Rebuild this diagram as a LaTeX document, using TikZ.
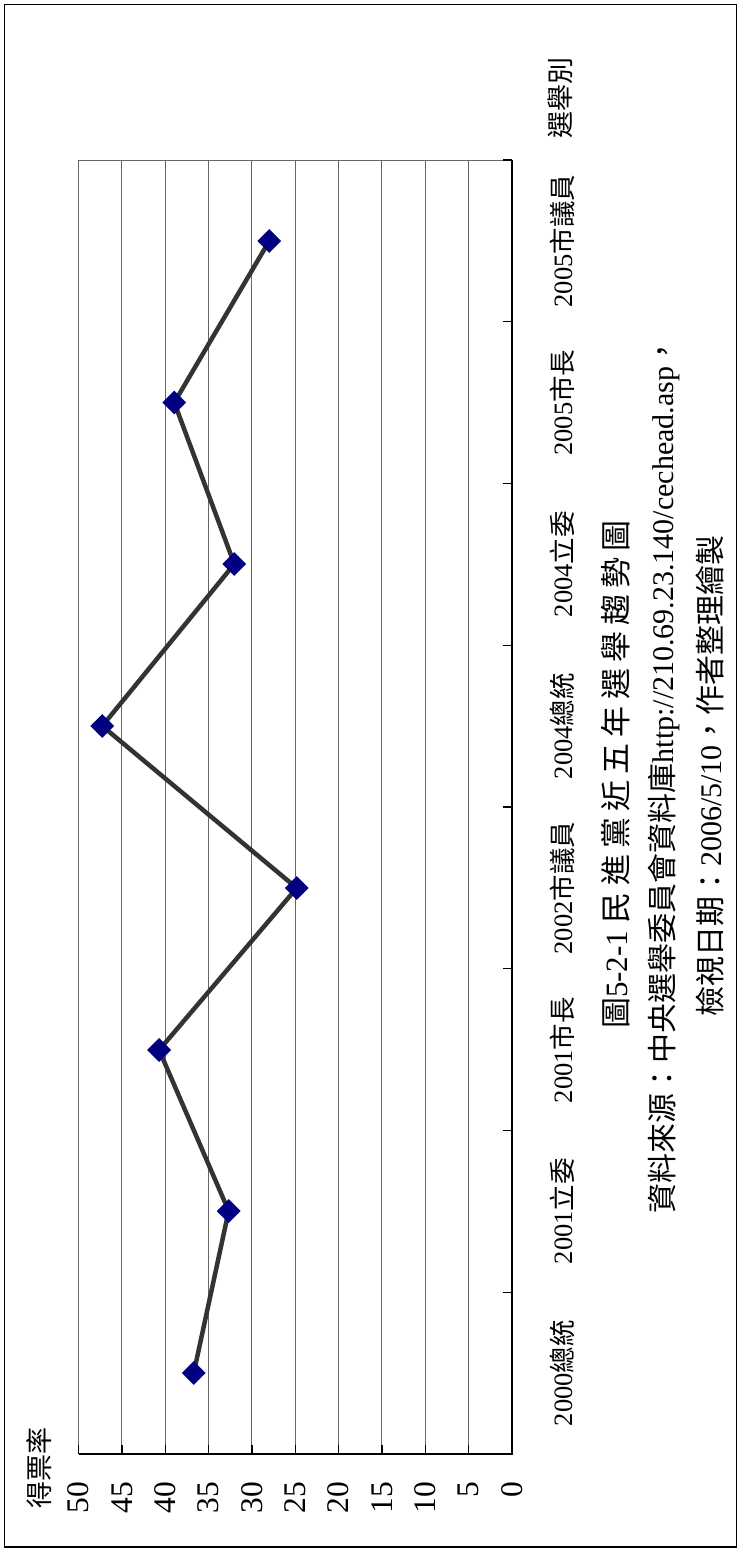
\documentclass[tikz,border=0pt]{standalone}
\usepackage{fontspec}
\setmainfont{Liberation Serif}
\newfontfamily\cjk{Noto Sans CJK TC}
\newfontfamily\cjkwide{Noto Sans CJK TC}[LetterSpace=20]
\usetikzlibrary{shapes.geometric}
\definecolor{navy}{RGB}{0,0,128}
\definecolor{darkline}{RGB}{51,51,51}

\tikzstyle{gridline} = [draw=black!60, line width=1pt]
\tikzstyle{axisline} = [draw=black, line width=1.3pt]
\tikzstyle{marker} = [diamond, fill=navy, minimum width=24pt, minimum height=24pt, inner sep=0pt]
\tikzstyle{dataline} = [draw=darkline, line width=4.5pt, line join=round]
\tikzstyle{catlabel} = [rotate=90, inner sep=0pt, font=\fontsize{26.5}{26.5}\selectfont]
\tikzstyle{vallabel} = [rotate=90, anchor=east, inner sep=0pt, font=\fontsize{31.5}{31.5}\selectfont]
\tikzstyle{axistitle} = [rotate=90, inner sep=0pt, font=\fontsize{27}{27}\selectfont\cjk]

\begin{document}
\begin{tikzpicture}[x=1pt, y=-1pt]
  \useasboundingbox (0,0) rectangle (739,1550);
  \draw [line width=1.3pt] (4.5,4.5) rectangle (736.5,1547);
  % grid
  \foreach \v in {5,10,...,50}
    \draw [gridline] ({512-8.67*\v},160) -- ({512-8.67*\v},1454);
  \draw [gridline] (78.5,160) -- (512,160);
  % axes
  \draw [axisline] (512,160) -- (512,1454) -- (78.5,1454);
  \foreach \k in {0,...,7}
    \draw [axisline] (502.5,{160+161.75*\k}) -- (512,{160+161.75*\k});
  \foreach \v in {5,10,...,50}
    \draw [axisline] ({512-8.67*\v},1445) -- ({512-8.67*\v},1454);
  % value labels
  \foreach \v in {0,5,...,50}
    \node (val\v) [vallabel] at ({512-8.67*\v},1482) {\v};
  \node (ytitle) [axistitle] at (39,1468) {得票率};
  \node (xtitle) [axistitle] at (560,97.5) {選舉別};
  % category labels
  \node (cat1) [catlabel] at (562,1373) {2000{\cjk 總統}};
  \node (cat2) [catlabel] at (562,1211) {2001{\cjk 立委}};
  \node (cat3) [catlabel] at (562,1050) {2001{\cjk 市長}};
  \node (cat4) [catlabel] at (562,888) {2002{\cjk 市議員}};
  \node (cat5) [catlabel] at (562,726) {2004{\cjk 總統}};
  \node (cat6) [catlabel] at (562,564) {2004{\cjk 立委}};
  \node (cat7) [catlabel] at (562,402.5) {2005{\cjk 市長}};
  \node (cat8) [catlabel] at (562,241) {2005{\cjk 市議員}};
  % data points
  \coordinate (p1) at ({512-8.67*36.71},1373);
  \coordinate (p2) at ({512-8.67*32.68},1211);
  \coordinate (p3) at ({512-8.67*40.70},1050);
  \coordinate (p4) at ({512-8.67*24.83},888);
  \coordinate (p5) at ({512-8.67*47.26},726);
  \coordinate (p6) at ({512-8.67*32.03},564);
  \coordinate (p7) at ({512-8.67*38.95},402.5);
  \coordinate (p8) at ({512-8.67*28.00},241);
  % connections
  \draw [dataline] (p1) -- (p2) -- (p3) -- (p4) -- (p5) -- (p6) -- (p7) -- (p8);
  \node (m1) [marker] at (p1) {};
  \node (m2) [marker] at (p2) {};
  \node (m3) [marker] at (p3) {};
  \node (m4) [marker] at (p4) {};
  \node (m5) [marker] at (p5) {};
  \node (m6) [marker] at (p6) {};
  \node (m7) [marker] at (p7) {};
  \node (m8) [marker] at (p8) {};
  % caption
  \node (title) [rotate=90, inner sep=0pt, font=\fontsize{31}{31}\selectfont] at (616,774.5)
    {{\cjkwide 圖}5-2-1 {\cjkwide 民進黨近五年選舉趨勢圖}};
  \node (source) [rotate=90, inner sep=0pt, font=\fontsize{30}{30}\selectfont] at (664,775)
    {{\cjk 資料來源：中央選舉委員會資料庫}http://210.69.23.140/cechead.asp{\cjk ，}};
  \node (date) [rotate=90, inner sep=0pt, font=\fontsize{30}{30}\selectfont] at (710,776)
    {{\cjk 檢視日期：}2006/5/10{\cjk ，作者整理繪製}};
\end{tikzpicture}
\end{document}
